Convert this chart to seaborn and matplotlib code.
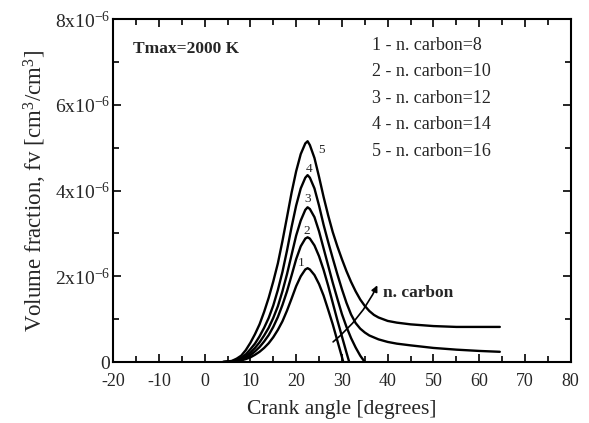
import matplotlib
matplotlib.use("Agg")
import matplotlib.pyplot as plt
import numpy as np
import pandas as pd
import seaborn as sns
from matplotlib.ticker import MultipleLocator, FuncFormatter

# Soot volume fraction (units of 1e-6 cm3/cm3) versus crank angle, one series per fuel carbon number
angle_c8 = [4, 6, 7, 8, 9, 10, 11, 12, 13, 14, 15, 16, 17, 18, 19, 20, 21, 22, 22.5,
            23, 24, 25, 26, 27, 28, 29, 30, 30.3]
fv_c8 = [0, 0.01, 0.02, 0.04, 0.07, 0.11, 0.17, 0.24, 0.33, 0.44, 0.58, 0.75, 0.95, 1.20, 1.48, 1.77,
         2.00, 2.16, 2.19, 2.16, 2.03, 1.82, 1.55, 1.22, 0.88, 0.50, 0.12, 0]

angle_c10 = [4, 6, 7, 8, 9, 10, 11, 12, 13, 14, 15, 16, 17, 18, 19, 20, 21, 22, 22.5,
             23, 24, 25, 26, 27, 28, 29, 30, 31, 31.6]
fv_c10 = [0, 0.01, 0.03, 0.05, 0.10, 0.16, 0.25, 0.35, 0.48, 0.63, 0.82, 1.05, 1.33, 1.65, 2.02, 2.40,
          2.70, 2.88, 2.91, 2.88, 2.72, 2.47, 2.15, 1.78, 1.38, 0.98, 0.60, 0.22, 0]

angle_c12 = [4, 6, 7, 8, 9, 10, 11, 12, 13, 14, 15, 16, 17, 18, 19, 20, 21, 22, 22.5,
             23, 24, 25, 26, 27, 28, 29, 30, 31, 32, 33, 34, 35]
fv_c12 = [0, 0.02, 0.04, 0.07, 0.13, 0.22, 0.33, 0.46, 0.62, 0.80, 1.03, 1.30, 1.65, 2.05, 2.50, 2.95,
          3.30, 3.55, 3.61, 3.57, 3.38, 3.05, 2.65, 2.25, 1.85, 1.48, 1.12, 0.82, 0.56, 0.34, 0.15, 0]

angle_c14 = [4, 5, 6, 7, 8, 9, 10, 11, 12, 13, 14, 15, 16, 17, 18, 19, 20, 21, 22, 22.5,
             23, 24, 25, 26, 27, 28, 29, 30, 31, 32, 33, 34, 35, 36, 38, 40, 42, 45, 50, 55, 60, 64.5]
fv_c14 = [0, 0.01, 0.02, 0.05, 0.10, 0.18, 0.30, 0.43, 0.60, 0.80, 1.03, 1.32, 1.68, 2.10, 2.60, 3.15,
          3.65, 4.05, 4.30, 4.36, 4.30, 4.05, 3.65, 3.20, 2.80, 2.42, 2.05, 1.70, 1.38, 1.11, 0.91, 0.78,
          0.69, 0.62, 0.53, 0.47, 0.43, 0.39, 0.33, 0.29, 0.26, 0.24]

angle_c16 = [4, 5, 6, 7, 8, 9, 10, 11, 12, 13, 14, 15, 16, 17, 18, 19, 20, 21, 22, 22.5,
             23, 24, 25, 26, 27, 28, 29, 30, 31, 32, 33, 34, 35, 36, 37, 38, 40, 42, 45, 50, 55, 60, 64.5]
fv_c16 = [0, 0.01, 0.03, 0.08, 0.15, 0.28, 0.45, 0.65, 0.88, 1.17, 1.50, 1.88, 2.30, 2.82, 3.38, 3.95,
          4.45, 4.85, 5.10, 5.15, 5.06, 4.76, 4.32, 3.85, 3.42, 3.03, 2.70, 2.40, 2.12, 1.87, 1.65, 1.46,
          1.31, 1.19, 1.10, 1.04, 0.96, 0.92, 0.88, 0.84, 0.82, 0.82, 0.82]

carbon_numbers = [8, 10, 12, 14, 16]
curve_ids = ["1", "2", "3", "4", "5"]
legend_lines = [f"{i} - n. carbon={n}" for i, n in zip(curve_ids, carbon_numbers)]

y_tick_values = [0, 2, 4, 6, 8]          # in 1e-6
x_tick_values = [-20, -10, 0, 10, 20, 30, 40, 50, 60, 70, 80]

series = [(angle_c8, fv_c8), (angle_c10, fv_c10), (angle_c12, fv_c12),
          (angle_c14, fv_c14), (angle_c16, fv_c16)]
frames = []
for cid, (a, f) in zip(curve_ids, series):
    frames.append(pd.DataFrame({"angle": a, "fv": np.array(f) * 1e-6, "curve": cid}))
df = pd.concat(frames, ignore_index=True)

sns.set_theme(style="ticks")
plt.rcParams["font.family"] = ["Liberation Serif", "DejaVu Serif"]
plt.rcParams["mathtext.fontset"] = "custom"
plt.rcParams["mathtext.rm"] = "Liberation Serif"
plt.rcParams["mathtext.it"] = "Liberation Serif:italic"
plt.rcParams["mathtext.bf"] = "Liberation Serif:bold"
plt.rcParams["axes.unicode_minus"] = False

fig, ax = plt.subplots(figsize=(5.89, 4.23), dpi=100)
fig.subplots_adjust(left=0.192, right=0.969, bottom=0.144, top=0.955)

sns.lineplot(data=df, x="angle", y="fv", hue="curve", units="curve", estimator=None,
             palette=["black"] * 5, legend=False, linewidth=1.7, sort=False, ax=ax)

ax.set_xlim(-20, 80)
ax.set_ylim(0, 8e-6)
ax.set_xticks(x_tick_values)
ax.set_yticks([v * 1e-6 for v in y_tick_values])
ax.xaxis.set_minor_locator(MultipleLocator(5))
ax.yaxis.set_minor_locator(MultipleLocator(1e-6))


def y_fmt(v, pos):
    m = int(round(v * 1e6))
    if m == 0:
        return "0"
    return rf"${m}\mathrm{{x}}10^{{-6}}$"


ax.yaxis.set_major_formatter(FuncFormatter(y_fmt))
ax.tick_params(which="both", direction="in", top=True, right=True, color="black", width=1.2)
ax.tick_params(which="major", length=6)
ax.tick_params(which="minor", length=4)
ax.tick_params(axis="x", labelsize=13, pad=8)
ax.tick_params(axis="y", labelsize=14, pad=2)
for s in ax.spines.values():
    s.set_color("black")
    s.set_linewidth(1.5)

ax.set_xlabel("Crank angle [degrees]", fontsize=15.5, labelpad=7)
ax.set_ylabel(r"Volume fraction, fv [cm$^3$/cm$^3$]", fontsize=16.5, labelpad=4)

ax.text(-15.6, 7.31e-6, "Tmax=2000 K", fontsize=12.5, fontweight="bold", va="center", ha="left")

legend_y = [7.39, 6.77, 6.14, 5.53, 4.90]
for txt, yy in zip(legend_lines, legend_y):
    ax.text(36.6, yy * 1e-6, txt, fontsize=13, va="center", ha="left")

# curve numbers near the peaks
num_pos = [(21.2, 2.30), (22.4, 3.06), (22.4, 3.80), (22.9, 4.50), (25.5, 4.95)]
for cid, (xx, yy) in zip(curve_ids, num_pos):
    ax.text(xx, yy * 1e-6, cid, fontsize=9.5, va="center", ha="center")

ax.annotate("", xy=(38.0, 1.85e-6), xytext=(27.6, 0.43e-6),
            arrowprops=dict(arrowstyle="-|>", color="black", lw=1.2,
                            mutation_scale=9, connectionstyle="arc3,rad=0.12"))
ax.text(38.9, 1.62e-6, "n. carbon", fontsize=12.5, fontweight="bold", va="center", ha="left")

fig.savefig("out.png", dpi=100)
